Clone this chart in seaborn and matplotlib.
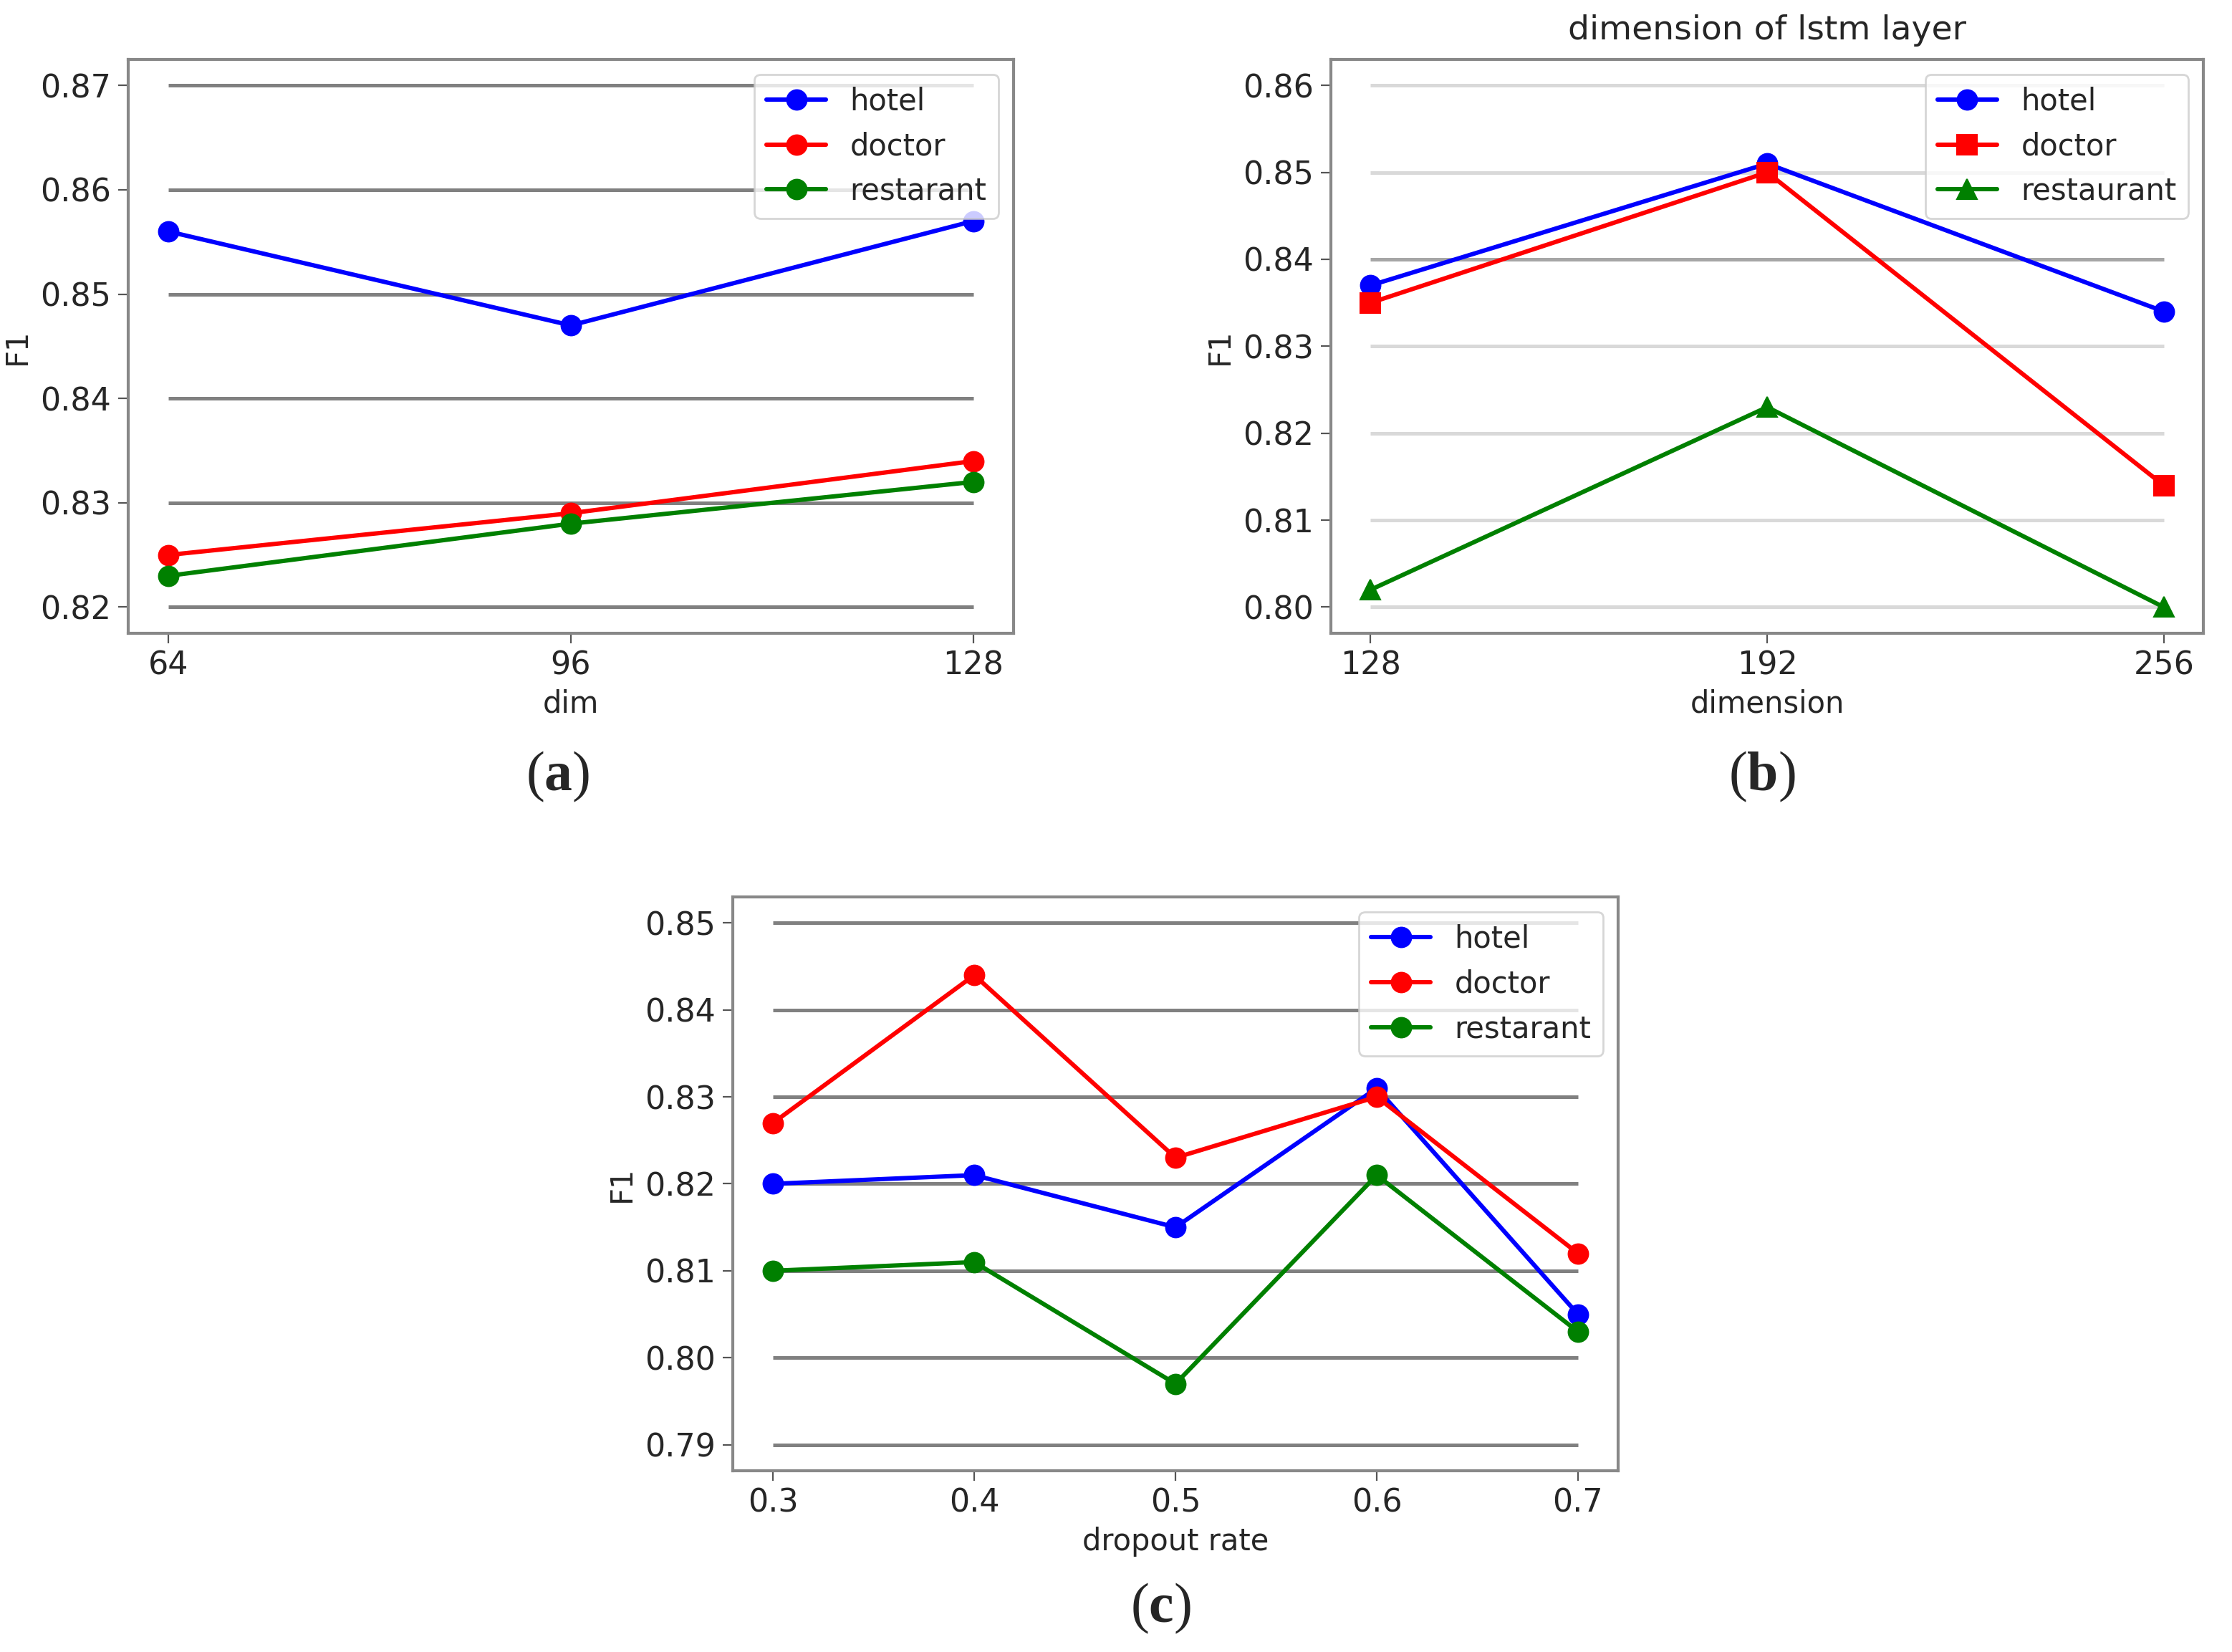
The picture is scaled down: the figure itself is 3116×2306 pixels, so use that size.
import numpy as np
import pandas as pd
import matplotlib
matplotlib.use("Agg")
import matplotlib.pyplot as plt
import seaborn as sns

# panel (a): embedding dim
dim_a = [64, 96, 128]
hotel_a = [0.856, 0.847, 0.857]
doctor_a = [0.825, 0.829, 0.834]
rest_a = [0.823, 0.828, 0.832]
grid_a = [0.82, 0.83, 0.84, 0.85, 0.86, 0.87]

# panel (b): lstm dimension
dim_b = [128, 192, 256]
hotel_b = [0.837, 0.851, 0.834]
doctor_b = [0.835, 0.850, 0.814]
rest_b = [0.802, 0.823, 0.800]
grid_b = [0.80, 0.81, 0.82, 0.83, 0.84, 0.85, 0.86]

# panel (c): dropout
drop_c = [0.3, 0.4, 0.5, 0.6, 0.7]
hotel_c = [0.820, 0.821, 0.815, 0.831, 0.805]
doctor_c = [0.827, 0.844, 0.823, 0.830, 0.812]
rest_c = [0.810, 0.811, 0.797, 0.821, 0.803]
grid_c = [0.79, 0.80, 0.81, 0.82, 0.83, 0.84, 0.85]

colors = ["blue", "red", "green"]

sns.set_style("white")
plt.rcParams["font.family"] = ["DejaVu Sans"]
plt.rcParams["mathtext.fontset"] = "custom"
plt.rcParams["mathtext.rm"] = "Liberation Serif"
plt.rcParams["mathtext.bf"] = "Liberation Serif:bold"

fig = plt.figure(figsize=(15.58, 11.53), dpi=200)


def panel(rect, xs, series, names, markers, grid, gcolors, xlabel, ticklabels):
    ax = fig.add_axes(rect)
    for yv, gc in zip(grid, gcolors):
        ax.hlines(yv, xs[0], xs[-1], color=gc, lw=1.8, zorder=1)
    for ys, nm, mk, c in zip(series, names, markers, colors):
        d = pd.DataFrame({"x": xs, "y": ys})
        sns.lineplot(data=d, x="x", y="y", ax=ax, color=c, marker=mk,
                     markersize=10, markeredgecolor=c, lw=2.2, label=nm, zorder=3)
    ax.set_xticks(xs)
    ax.set_xticklabels(ticklabels)
    ax.set_yticks(grid)
    ax.set_yticklabels(["%.2f" % g for g in grid])
    ax.set_xlabel(xlabel, fontsize=15)
    ax.set_ylabel("F1", fontsize=15)
    ax.tick_params(labelsize=16, length=5, color="#555555", bottom=True, left=True)
    for s in ax.spines.values():
        s.set_color("#888888")
        s.set_linewidth(1.5)
    ax.legend(loc="upper right", fontsize=15, frameon=True, edgecolor="#cccccc",
              handlelength=2.0)
    return ax


panel([0.0574, 0.6167, 0.3967, 0.3474], dim_a, [hotel_a, doctor_a, rest_a],
      ["hotel", "doctor", "restarant"], ["o", "o", "o"], grid_a,
      ["#808080"] * len(grid_a), "dim", [str(v) for v in dim_a])

gcol_b = ["#d9d9d9"] * len(grid_b)
gcol_b[4] = "#a6a6a6"
axb = panel([0.5963, 0.6167, 0.3909, 0.3474], dim_b, [hotel_b, doctor_b, rest_b],
            ["hotel", "doctor", "restaurant"], ["o", "s", "^"], grid_b,
            gcol_b, "dimension", [str(v) for v in dim_b])
axb.set_title("dimension of lstm layer", fontsize=17, pad=10)

panel([0.3283, 0.1097, 0.3967, 0.3474], drop_c, [hotel_c, doctor_c, rest_c],
      ["hotel", "doctor", "restarant"], ["o", "o", "o"], grid_c,
      ["#808080"] * len(grid_c), "dropout rate", [str(v) for v in drop_c])

for x, y, t in [(0.250, 0.530, "a"), (0.7895, 0.530, "b"), (0.520, 0.0264, "c")]:
    fig.text(x, y, r"$\mathrm{(}\mathbf{%s}\mathrm{)}$" % t, fontsize=28,
             ha="center", va="center")

fig.savefig("out.png", dpi=200, facecolor="white")
plt.close()
